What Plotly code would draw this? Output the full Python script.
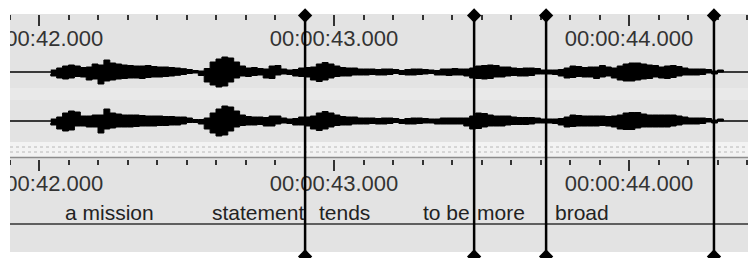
import numpy as np
import plotly.graph_objects as go

# ---------------- data ----------------
SAMPLE_START = 42.04          # seconds, first envelope sample
SAMPLE_STEP = 0.02            # seconds between envelope samples
CH1_ENV = [2, 4, 6, 7, 6, 4.5, 5, 8, 7, 12,
           9, 8, 7, 6.5, 6, 6, 6.5, 5.5, 5, 5,
           4.5, 4, 3.3, 2.5, 1.5, 1, 3.5, 10, 13, 15,
           14, 10, 6, 4, 4.5, 3.5, 3, 6, 6.5, 3,
           2, 2.5, 4, 4.5, 5, 8, 9.5, 8, 6, 4.5,
           4, 4, 3, 3, 3, 2.5, 3, 3, 2.5, 1.5,
           2.5, 3, 3, 2.5, 2, 1.5, 3, 3, 3.5, 3,
           3, 4, 6, 6.5, 7, 6.5, 5, 5, 4, 3.5,
           4, 4, 3.5, 2, 2, 2, 2.5, 4, 6, 5.5,
           4.5, 5, 5, 6.5, 5, 4, 6, 8, 9, 9,
           8, 7, 6.5, 5, 6, 6.5, 5.5, 4, 3, 3,
           3, 2.5, 1, 2, 0]
CH2_ENV = [2, 4, 8, 10, 9, 5, 5, 6, 6, 12,
           8, 7, 6, 6, 6, 5.5, 5, 5, 5, 4.5,
           4.5, 4, 4, 3, 1.5, 1.5, 3, 8, 12, 15,
           14, 10, 6, 4.5, 4, 4, 3.5, 5, 5, 3,
           2, 2.5, 4, 4, 5, 8, 9.5, 8, 6, 4.5,
           4, 4, 3, 3, 3, 2.5, 3, 3, 2.5, 1.5,
           2.5, 3, 3, 2.5, 2, 2, 3, 3, 3, 3,
           3, 5, 8, 7.5, 6, 5, 5, 5, 4, 3.5,
           3.5, 3.5, 3, 2, 2, 2, 2.5, 4, 6, 5.5,
           5, 5, 5, 5, 4.5, 5, 6, 8, 8.5, 8.5,
           7, 6, 6, 6, 6, 6, 5, 4, 3, 3,
           3, 2.5, 1, 2, 0]
TICK_SECONDS = [42, 43, 44]
TICK_LABELS = ["00:00:42.000", "00:00:43.000", "00:00:44.000"]
CURSOR_TIMES = [42.902, 43.475, 43.719, 44.288]
WORDS = ["a mission", "statement", "tends", "to be", "more", "broad"]
WORD_TIMES = [42.239, 42.741, 43.037, 43.383, 43.566, 43.839]

# ---------------- layout constants ----------------
W, H = 748, 258
T_LEFT, T_RIGHT = 41.8678, 44.4034
PANEL_LEFT = 10
FONT = "Liberation Sans"
TICK_COLOR = "#333333"


def pf(p):
    """pixel row -> paper fraction"""
    return 1 - p / H


t = SAMPLE_START + SAMPLE_STEP * np.arange(len(CH1_ENV))

fig = go.Figure()

for env, yax in ((CH1_ENV, "y2"), (CH2_ENV, "y3")):
    env = np.asarray(env, dtype=float)
    fig.add_trace(go.Scatter(
        x=np.concatenate([t, t[::-1]]),
        y=np.concatenate([env, -env[::-1]]),
        xaxis="x", yaxis=yax, mode="lines", fill="toself",
        fillcolor="black", line=dict(color="black", width=1, shape="hv"),
        cliponaxis=False, hoverinfo="skip"))

CUR_TOP, CUR_BOT = 15.5, 256.5
for ct in CURSOR_TIMES:
    fig.add_trace(go.Scatter(
        x=[ct, ct], y=[CUR_TOP, CUR_BOT], xaxis="x", yaxis="y",
        mode="lines+markers", cliponaxis=False,
        line=dict(color="black", width=2.5),
        marker=dict(symbol="diamond", size=11, color="black"),
        hoverinfo="skip"))

# invisible trace so the second ruler axis is created
fig.add_trace(go.Scatter(x=[TICK_SECONDS[0]], y=[0], xaxis="x2", yaxis="y",
                         mode="markers", marker=dict(opacity=0),
                         hoverinfo="skip"))

for w, wt in zip(WORDS, WORD_TIMES):
    fig.add_annotation(x=wt, xref="x", y=212, yref="y", text=w,
                       showarrow=False, xanchor="center", yanchor="middle",
                       font=dict(family=FONT, size=21, color="#222222"))

shapes = [
    dict(type="rect", xref="paper", yref="y", x0=PANEL_LEFT / W, x1=1,
         y0=14, y1=252, fillcolor="#e3e3e3", line_width=0, layer="below"),
    dict(type="rect", xref="paper", yref="y", x0=PANEL_LEFT / W, x1=1,
         y0=88, y1=100, fillcolor="#e9e9e9", line_width=0, layer="below"),
    dict(type="rect", xref="paper", yref="y", x0=PANEL_LEFT / W, x1=1,
         y0=142, y1=157, fillcolor="#f3f3f3", line_width=0, layer="below"),
    dict(type="line", xref="paper", yref="y", x0=PANEL_LEFT / W, x1=1,
         y0=147, y1=147, line=dict(color="#b8b8b8", width=1, dash="dot"),
         layer="below"),
    dict(type="line", xref="paper", yref="y", x0=PANEL_LEFT / W, x1=1,
         y0=152, y1=152, line=dict(color="#b8b8b8", width=1, dash="dot"),
         layer="below"),
    dict(type="line", xref="paper", yref="y", x0=PANEL_LEFT / W, x1=1,
         y0=157.5, y1=157.5, line=dict(color="#8c8c8c", width=1.5),
         layer="below"),
    dict(type="line", xref="paper", yref="y", x0=PANEL_LEFT / W, x1=1,
         y0=224, y1=224, line=dict(color="#333333", width=1.5),
         layer="below"),
    dict(type="line", xref="paper", yref="y2", x0=PANEL_LEFT / W, x1=1,
         y0=0, y1=0, line=dict(color="black", width=1.5), layer="below"),
    dict(type="line", xref="paper", yref="y3", x0=PANEL_LEFT / W, x1=1,
         y0=0, y1=0, line=dict(color="black", width=1.5), layer="below"),
    dict(type="rect", xref="paper", yref="paper", x0=0, x1=PANEL_LEFT / W,
         y0=0, y1=1, fillcolor="white", line_width=0, layer="above"),
]

ruler = dict(
    range=[T_LEFT, T_RIGHT], domain=[0, 1], anchor="free", side="bottom",
    automargin=False, ticklabeloverflow="allow", ticklabelstandoff=-6,
    ticks="outside", ticklen=11, tickwidth=1.5, tickcolor=TICK_COLOR,
    tickmode="array", tickvals=TICK_SECONDS, ticktext=TICK_LABELS,
    tickfont=dict(family=FONT, size=22, color="#333333"),
    minor=dict(tickmode="linear", tick0=42, dtick=0.1, ticks="outside",
               ticklen=5, tickwidth=1.5, tickcolor=TICK_COLOR),
    showgrid=False, zeroline=False, showline=False, layer="below traces",
    fixedrange=True)

fig.update_layout(
    width=W, height=H, margin=dict(l=0, r=0, t=0, b=0, pad=0),
    paper_bgcolor="white", plot_bgcolor="rgba(0,0,0,0)", showlegend=False,
    xaxis=dict(ruler, position=pf(14)),
    xaxis2=dict(ruler, position=pf(159), overlaying="x"),
    yaxis=dict(range=[H, 0], domain=[0, 1], visible=False, fixedrange=True,
               automargin=False),
    yaxis2=dict(range=[-24, 24], domain=[pf(96), pf(48)], visible=False,
                anchor="x", fixedrange=True, automargin=False),
    yaxis3=dict(range=[-24, 24], domain=[pf(145), pf(97)], visible=False,
                anchor="x", fixedrange=True, automargin=False),
    shapes=shapes,
)

fig.write_html("out.html", config={"displayModeBar": False},
               post_script="document.body.style.margin='0';")
